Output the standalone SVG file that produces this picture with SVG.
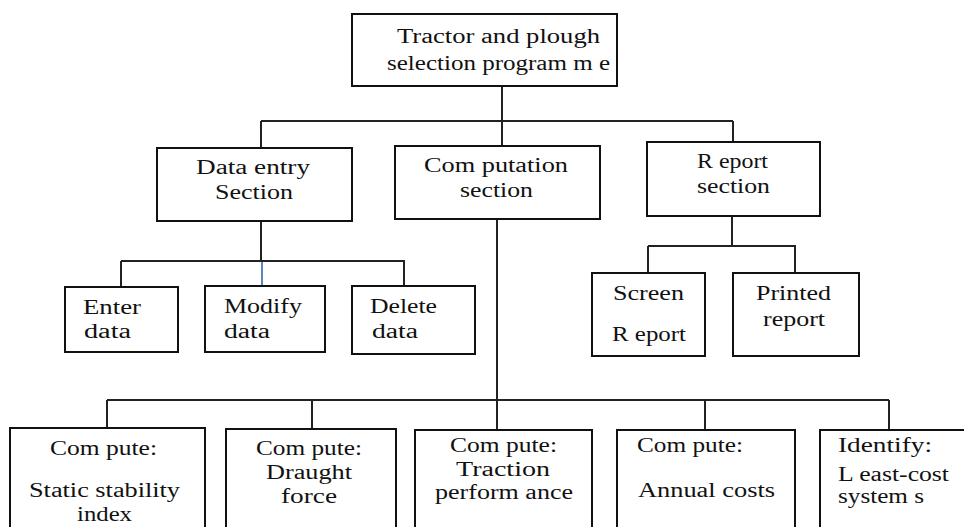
<svg xmlns="http://www.w3.org/2000/svg" width="964" height="527" viewBox="0 0 964 527">
<style>
.box{fill:#fff;stroke:#111;stroke-width:2}
.ln{fill:none;stroke:#222;stroke-width:2}
.blue{fill:none;stroke:#5b86c4;stroke-width:2}
text{font-family:"Times New Roman","Liberation Serif","DejaVu Serif","Noto Serif",Tinos,serif;font-size:20px;fill:#111}
</style>
<rect width="964" height="527" fill="#fff"/>
<g id="connectors">
<path class="ln" d="M502 86V146M261 121H733M261 121V148M733 121V142"/>
<path class="ln" d="M261 221V261M121 261H404V285M121 261V287"/>
<path class="blue" d="M262 262V286"/>
<path class="ln" d="M732 216V246H795V273M648 246H732M648 246V273"/>
<path class="ln" d="M497 219V430M107 400H889M107 400V428M312 400V429M705 400V430M889 400V430"/>
</g>
<g id="n-root"><rect class="box" x="352" y="14" width="265" height="72"/>
<text x="397" y="43" textLength="203" lengthAdjust="spacingAndGlyphs">Tractor and plough</text>
<text x="387" y="70" textLength="223" lengthAdjust="spacingAndGlyphs">selection program m e</text></g>
<g id="n-data"><rect class="box" x="157" y="148" width="195" height="73"/>
<text x="196" y="174" textLength="114" lengthAdjust="spacingAndGlyphs">Data entry</text>
<text x="215" y="199" textLength="78" lengthAdjust="spacingAndGlyphs">Section</text></g>
<g id="n-comp"><rect class="box" x="395" y="146" width="205" height="73"/>
<text x="424" y="172" textLength="144" lengthAdjust="spacingAndGlyphs">Com putation</text>
<text x="460" y="197" textLength="73" lengthAdjust="spacingAndGlyphs">section</text></g>
<g id="n-report"><rect class="box" x="647" y="142" width="173" height="74"/>
<text x="697" y="168" textLength="71" lengthAdjust="spacingAndGlyphs">R eport</text>
<text x="697" y="193" textLength="73" lengthAdjust="spacingAndGlyphs">section</text></g>
<g id="n-enter"><rect class="box" x="65" y="287" width="113" height="65"/>
<text x="83" y="314" textLength="58" lengthAdjust="spacingAndGlyphs">Enter</text>
<text x="84" y="338" textLength="47" lengthAdjust="spacingAndGlyphs">data</text></g>
<g id="n-modify"><rect class="box" x="205" y="286" width="120" height="66"/>
<text x="224" y="313" textLength="78" lengthAdjust="spacingAndGlyphs">Modify</text>
<text x="224" y="338" textLength="46" lengthAdjust="spacingAndGlyphs">data</text></g>
<g id="n-delete"><rect class="box" x="352" y="286" width="123" height="68"/>
<text x="370" y="313" textLength="67" lengthAdjust="spacingAndGlyphs">Delete</text>
<text x="372" y="338" textLength="46" lengthAdjust="spacingAndGlyphs">data</text></g>
<g id="n-screen"><rect class="box" x="592" y="273" width="113" height="83"/>
<text x="613" y="300" textLength="71" lengthAdjust="spacingAndGlyphs">Screen</text>
<text x="612" y="341" textLength="74" lengthAdjust="spacingAndGlyphs">R eport</text></g>
<g id="n-printed"><rect class="box" x="733" y="273" width="126" height="83"/>
<text x="756" y="300" textLength="75" lengthAdjust="spacingAndGlyphs">Printed</text>
<text x="763" y="326" textLength="62" lengthAdjust="spacingAndGlyphs">report</text></g>
<g id="n-static"><rect class="box" x="10" y="428" width="195" height="110"/>
<text x="50" y="455" textLength="107" lengthAdjust="spacingAndGlyphs">Com pute:</text>
<text x="29" y="497" textLength="151" lengthAdjust="spacingAndGlyphs">Static stability</text>
<text x="77" y="521" textLength="55" lengthAdjust="spacingAndGlyphs">index</text></g>
<g id="n-draught"><rect class="box" x="226" y="429" width="170" height="110"/>
<text x="256" y="455" textLength="106" lengthAdjust="spacingAndGlyphs">Com pute:</text>
<text x="266" y="479" textLength="86" lengthAdjust="spacingAndGlyphs">Draught</text>
<text x="281" y="503" textLength="56" lengthAdjust="spacingAndGlyphs">force</text></g>
<g id="n-traction"><rect class="box" x="415" y="430" width="177" height="110"/>
<text x="450" y="452" textLength="107" lengthAdjust="spacingAndGlyphs">Com pute:</text>
<text x="456" y="476" textLength="94" lengthAdjust="spacingAndGlyphs">Traction</text>
<text x="435" y="499" textLength="138" lengthAdjust="spacingAndGlyphs">perform ance</text></g>
<g id="n-annual"><rect class="box" x="617" y="430" width="178" height="110"/>
<text x="637" y="452" textLength="106" lengthAdjust="spacingAndGlyphs">Com pute:</text>
<text x="638" y="497" textLength="137" lengthAdjust="spacingAndGlyphs">Annual costs</text></g>
<g id="n-least"><rect class="box" x="820" y="430" width="160" height="110"/>
<text x="838" y="452" textLength="94" lengthAdjust="spacingAndGlyphs">Identify:</text>
<text x="838" y="481" textLength="111" lengthAdjust="spacingAndGlyphs">L east-cost</text>
<text x="838" y="503" textLength="86" lengthAdjust="spacingAndGlyphs">system s</text></g>
</svg>
